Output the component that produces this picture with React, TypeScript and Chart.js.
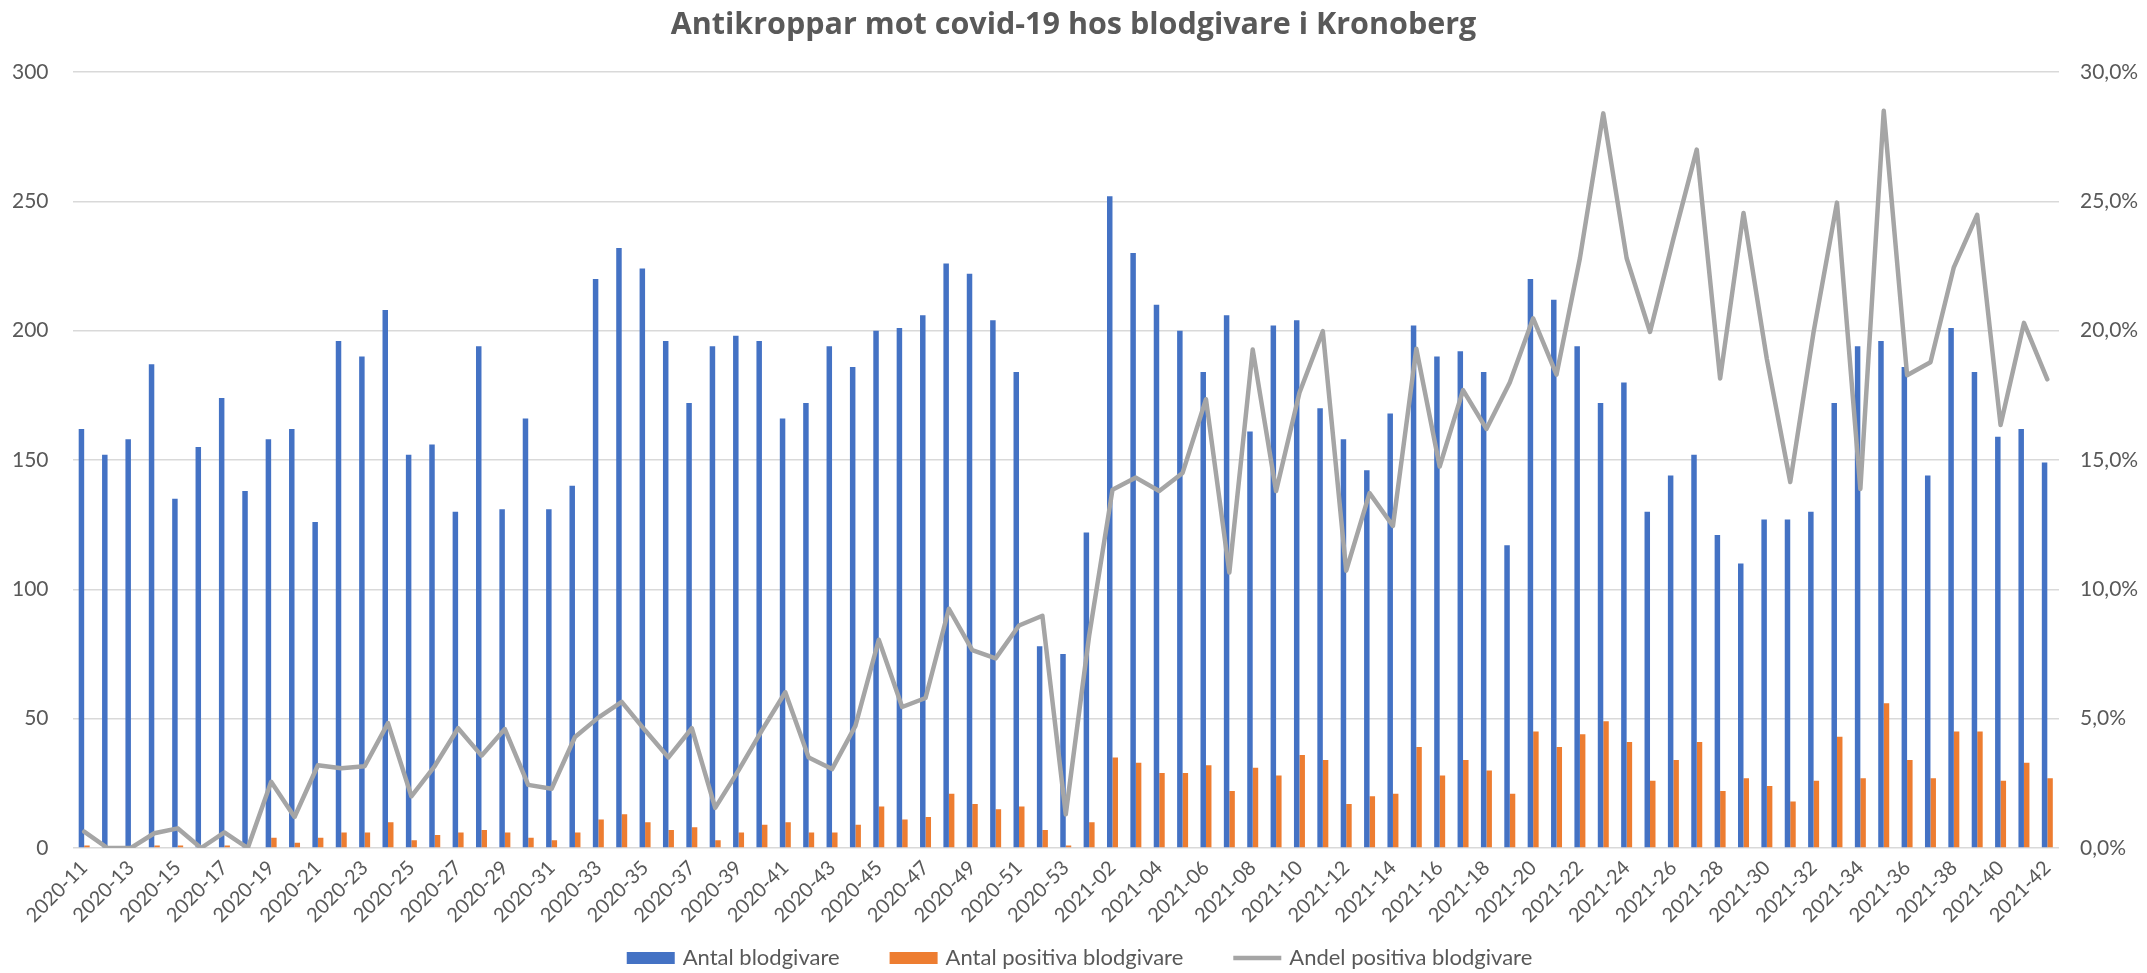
import React, { useEffect, useRef } from "react";
import { Chart, registerables } from "chart.js";

Chart.register(...registerables);

const weeks2020 = [
  "2020-11","2020-12","2020-13","2020-14","2020-15","2020-16","2020-17","2020-18","2020-19","2020-20",
  "2020-21","2020-22","2020-23","2020-24","2020-25","2020-26","2020-27","2020-28","2020-29","2020-30",
  "2020-31","2020-32","2020-33","2020-34","2020-35","2020-36","2020-37","2020-38","2020-39","2020-40",
  "2020-41","2020-42","2020-43","2020-44","2020-45","2020-46","2020-47","2020-48","2020-49","2020-50",
  "2020-51","2020-52","2020-53",
];
const weeks2021 = [
  "2021-01","2021-02","2021-03","2021-04","2021-05","2021-06","2021-07","2021-08","2021-09","2021-10",
  "2021-11","2021-12","2021-13","2021-14","2021-15","2021-16","2021-17","2021-18","2021-19","2021-20",
  "2021-21","2021-22","2021-23","2021-24","2021-25","2021-26","2021-27","2021-28","2021-29","2021-30",
  "2021-31","2021-32","2021-33","2021-34","2021-35","2021-36","2021-37","2021-38","2021-39","2021-40",
  "2021-41","2021-42",
];
const categories = [...weeks2020, ...weeks2021];

const antalBlodgivare = [
  162, 152, 158, 187, 135, 155, 174, 138, 158, 162,
  126, 196, 190, 208, 152, 156, 130, 194, 131, 166,
  131, 140, 220, 232, 224, 196, 172, 194, 198, 196,
  166, 172, 194, 186, 200, 201, 206, 226, 222, 204,
  184, 78, 75,
  122, 252, 230, 210, 200, 184, 206, 161, 202, 204,
  170, 158, 146, 168, 202, 190, 192, 184, 117, 220,
  212, 194, 172, 180, 130, 144, 152, 121, 110, 127,
  127, 130, 172, 194, 196, 186, 144, 201, 184, 159,
  162, 149,
];

const antalPositiva = [
  1, 0, 0, 1, 1, 0, 1, 0, 4, 2,
  4, 6, 6, 10, 3, 5, 6, 7, 6, 4,
  3, 6, 11, 13, 10, 7, 8, 3, 6, 9,
  10, 6, 6, 9, 16, 11, 12, 21, 17, 15,
  16, 7, 1,
  10, 35, 33, 29, 29, 32, 22, 31, 28, 36,
  34, 17, 20, 21, 39, 28, 34, 30, 21, 45,
  39, 44, 49, 41, 26, 34, 41, 22, 27, 24,
  18, 26, 43, 27, 56, 34, 27, 45, 45, 26,
  33, 27,
];

// Andel positiva blodgivare, in percent
const andelPositiva = [
  0.63, 0, 0, 0.57, 0.76, 0, 0.6, 0, 2.56, 1.2,
  3.2, 3.08, 3.16, 4.83, 2.0, 3.17, 4.63, 3.57, 4.6, 2.44,
  2.29, 4.29, 5.04, 5.65, 4.55, 3.5, 4.63, 1.55, 3.0, 4.55,
  6.02, 3.5, 3.05, 4.72, 8.05, 5.45, 5.8, 9.25, 7.65, 7.33,
  8.6, 8.98, 1.3,
  8.2, 13.85, 14.32, 13.8, 14.5, 17.35, 10.65, 19.27, 13.8, 17.6,
  19.98, 10.72, 13.72, 12.45, 19.3, 14.75, 17.7, 16.2, 18.0, 20.48,
  18.3, 22.8, 28.4, 22.8, 19.95, 23.55, 27.0, 18.15, 24.55, 18.9,
  14.15, 19.95, 24.95, 13.88, 28.5, 18.28, 18.78, 22.45, 24.48, 16.35,
  20.3, 18.12,
];

const leftTicks = { min: 0, max: 300, step: 50 };
const rightTicks = { min: 0, max: 30, step: 5 };

const seriesNames = ["Antal blodgivare", "Antal positiva blodgivare", "Andel positiva blodgivare"];
const titleText = "Antikroppar mot covid-19 hos blodgivare i Kronoberg";

const BLUE = "#4472C4";
const ORANGE = "#ED7D31";
const GREY = "#A5A5A5";
const TEXT = "#595959";
const GRID = "#D9D9D9";
const FONT = "Lato, 'Open Sans', sans-serif";
const TITLE_FONT = "'Open Sans', Lato, sans-serif";

// Bottom legend drawn with the chart's own canvas context
const legendPlugin = {
  id: "bottomLegend",
  afterDraw(chart: any) {
    const ctx = chart.ctx as CanvasRenderingContext2D;
    const items = [
      { text: seriesNames[0], color: BLUE, kind: "rect" },
      { text: seriesNames[1], color: ORANGE, kind: "rect" },
      { text: seriesNames[2], color: GREY, kind: "line" },
    ];
    ctx.save();
    ctx.font = `22px ${FONT}`;
    const boxW = 48;
    const boxH = 12;
    const gapText = 8;
    const gapItem = 50;
    const widths = items.map((it) => boxW + gapText + ctx.measureText(it.text).width);
    const total = widths.reduce((a, b) => a + b, 0) + gapItem * (items.length - 1);
    let x = chart.width / 2 + 6 - total / 2;
    const cy = chart.height - 15;
    items.forEach((it, i) => {
      if (it.kind === "rect") {
        ctx.fillStyle = it.color;
        ctx.fillRect(x, cy - boxH / 2, boxW, boxH);
      } else {
        ctx.strokeStyle = it.color;
        ctx.lineWidth = 4.5;
        ctx.lineCap = "butt";
        ctx.beginPath();
        ctx.moveTo(x, cy);
        ctx.lineTo(x + boxW, cy);
        ctx.stroke();
      }
      ctx.fillStyle = TEXT;
      ctx.textBaseline = "middle";
      ctx.textAlign = "left";
      ctx.fillText(it.text, x + boxW + gapText, cy);
      x += widths[i] + gapItem;
    });
    ctx.restore();
  },
};

export default function App() {
  const canvasRef = useRef<HTMLCanvasElement | null>(null);

  useEffect(() => {
    document.body.style.margin = "0";
    document.body.style.overflow = "hidden";
    const canvas = canvasRef.current;
    if (!canvas) return;
    const chart = new Chart(canvas, {
      type: "bar",
      data: {
        labels: categories,
        datasets: [
          {
            type: "bar",
            label: seriesNames[0],
            data: antalBlodgivare,
            backgroundColor: BLUE,
            borderWidth: 0,
            yAxisID: "y",
            order: 1,
            categoryPercentage: 0.47,
            barPercentage: 1.0,
          },
          {
            type: "bar",
            label: seriesNames[1],
            data: antalPositiva,
            backgroundColor: ORANGE,
            borderWidth: 0,
            yAxisID: "y",
            order: 1,
            categoryPercentage: 0.47,
            barPercentage: 1.0,
          },
          {
            type: "line",
            label: seriesNames[2],
            data: andelPositiva,
            borderColor: GREY,
            backgroundColor: GREY,
            borderWidth: 4.5,
            pointRadius: 0,
            pointHoverRadius: 0,
            tension: 0,
            borderJoinStyle: "round",
            borderCapStyle: "round",
            fill: false,
            yAxisID: "y1",
            order: 0,
          } as any,
        ],
      },
      options: {
        animation: false,
        responsive: true,
        maintainAspectRatio: false,
        layout: { padding: { top: 0, left: 0, right: 0, bottom: 43 } },
        plugins: {
          title: {
            display: true,
            text: titleText,
            color: TEXT,
            font: { family: TITLE_FONT, size: 30.5, weight: "bold", lineHeight: 1.2 },
            padding: { top: 7, bottom: 28.4 },
          },
          legend: { display: false },
          tooltip: { enabled: false },
        },
        scales: {
          x: {
            grid: { display: false, drawTicks: false },
            border: { display: false },
            ticks: {
              autoSkip: false,
              minRotation: 45,
              maxRotation: 45,
              padding: 8,
              color: TEXT,
              font: { family: FONT, size: 20 },
              callback: (_v: any, i: number) => (i % 2 === 0 ? categories[i] : ""),
            },
            afterFit: (s: any) => {
              s.height = 82;
            },
          },
          y: {
            position: "left",
            min: leftTicks.min,
            max: leftTicks.max,
            grid: { color: GRID, lineWidth: 1.5, drawTicks: false },
            border: { display: false },
            ticks: {
              stepSize: leftTicks.step,
              padding: 24,
              color: TEXT,
              font: { family: FONT, size: 21 },
            },
            afterFit: (s: any) => {
              s.width = 72.5;
            },
          },
          y1: {
            position: "right",
            min: rightTicks.min,
            max: rightTicks.max,
            grid: { display: false, drawTicks: false },
            border: { display: false },
            ticks: {
              stepSize: rightTicks.step,
              padding: 21,
              color: TEXT,
              font: { family: FONT, size: 21 },
              callback: (v: any) => Number(v).toFixed(1).replace(".", ",") + "%",
            },
            afterFit: (s: any) => {
              s.width = 88;
            },
          },
        },
      },
      plugins: [legendPlugin],
    });
    return () => chart.destroy();
  }, []);

  return (
    <div style={{ width: "2147px", height: "973px", position: "relative", background: "#fff" }}>
      <canvas ref={canvasRef} />
    </div>
  );
}
